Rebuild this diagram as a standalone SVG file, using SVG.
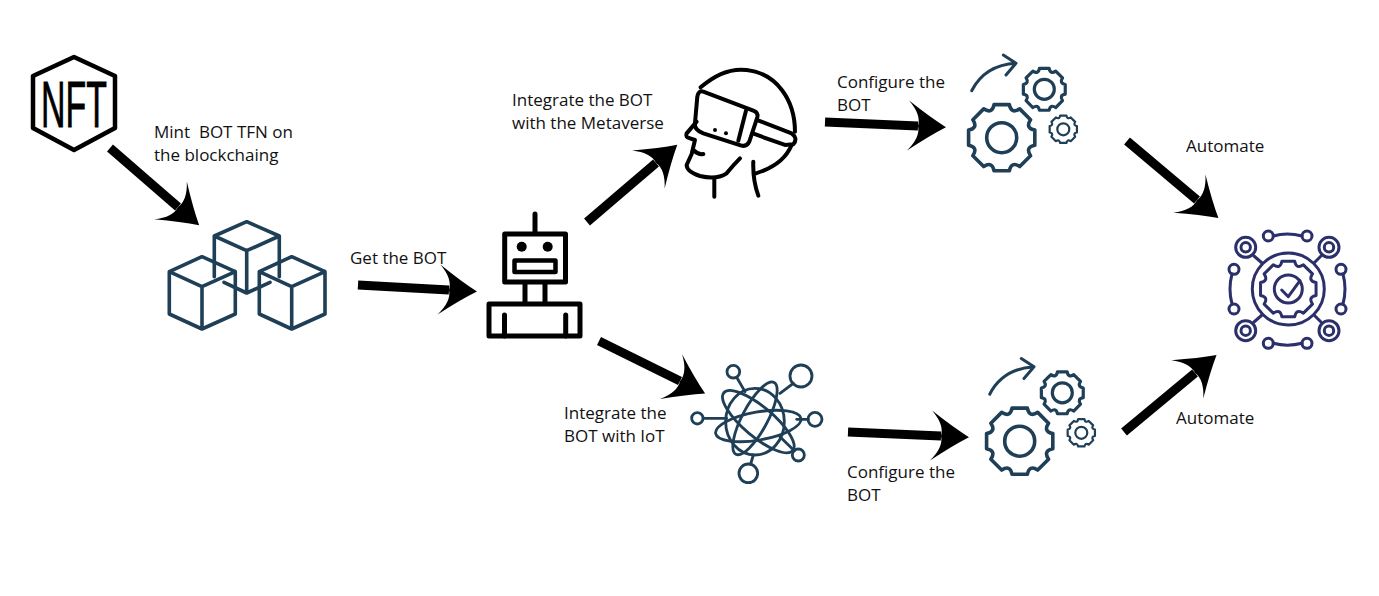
<svg xmlns="http://www.w3.org/2000/svg" width="1379" height="596" viewBox="0 0 1379 596">
<style>
text{font-family:"Open Sans","Noto Sans","Liberation Sans",sans-serif;font-size:17px;fill:#111;white-space:pre}
.k,.b,.n,.i{fill:none;stroke-linecap:round;stroke-linejoin:round}
.k{stroke:#000}
.b{stroke:#1f3f57}
.n{stroke:#2b2f6a}
.a{stroke:#000;stroke-width:9;fill:none;marker-end:url(#head)}
.nv{vector-effect:non-scaling-stroke}
</style>
<defs>
<marker id="head" markerUnits="userSpaceOnUse" orient="auto" markerWidth="44" markerHeight="54" refX="0" refY="0" viewBox="-12 -27 44 54" overflow="visible">
<path d="M28,0Q12,-9 -10,-25Q3,-11 0,0Q3,11 -10,25Q12,9 28,0Z" fill="#000"/>
</marker>
<path id="gear" class="nv" d="M-22.5,-97.4L22.5,-97.4Q28.3,-68.4 53,-84.8L84.8,-53Q68.4,-28.3 97.4,-22.5L97.4,22.5Q68.4,28.3 84.8,53L53,84.8Q28.3,68.4 22.5,97.4L-22.5,97.4Q-28.3,68.4 -53,84.8L-84.8,53Q-68.4,28.3 -97.4,22.5L-97.4,-22.5Q-68.4,-28.3 -84.8,-53L-53,-84.8Q-28.3,-68.4 -22.5,-97.4Z"/>
<g id="gearset" class="b">
<path d="M971.7,90.7Q985,65 1016,63.3M1003.3,55L1016,63.3L1006,75" stroke-width="3"/>
<use href="#gear" transform="translate(1001.7,137.7) scale(.34)" stroke-width="3.6"/>
<circle cx="1001.7" cy="137.7" r="15" stroke-width="3.6"/>
<use href="#gear" transform="translate(1044.3,89.3) scale(.215)" stroke-width="3.2"/>
<circle cx="1044.3" cy="89.3" r="10" stroke-width="3.2"/>
<use href="#gear" transform="translate(1063.3,129.3) scale(.14)" stroke-width="2.2"/>
<circle cx="1063.3" cy="129.3" r="6" stroke-width="2.2"/>
</g>
</defs>
<rect width="1379" height="596" fill="#fff"/>

<g id="connectors">
<path class="a" d="M110,148L178,207"/>
<path class="a" d="M358,285L449,290"/>
<path class="a" d="M587,222L656,163"/>
<path class="a" d="M599,341L680,381"/>
<path class="a" d="M825,122L918,126"/>
<path class="a" d="M848,432L941,436"/>
<path class="a" d="M1127,141L1197,200"/>
<path class="a" d="M1124,432L1195,373"/>
</g>

<g id="nft">
<path class="k" stroke-width="4.5" d="M74,57L115,76V128L74,150L33,128V76Z" stroke-linejoin="miter"/>
<text transform="translate(41,127) scale(.53,1)" style="font-family:'Liberation Sans',sans-serif;font-size:64px;fill:#000;stroke:#000;stroke-width:.8px">NFT</text>
</g>

<g id="blockchain" class="b" stroke-width="3.6">
<path d="M214.3,276.7V236L246.7,221.7L279.3,236V276.7M214.3,236L246.7,250.7L279.3,236M246.7,250.7V293L224,282.3M246.7,293L270,282.3"/>
<path d="M202,256.7L235.3,271.7V314L202,329L169.3,314V271.7ZM169.3,271.7L202,286.7L235.3,271.7M202,286.7V329"/>
<path d="M291.7,256.7L325,271.7V314L291.7,329L259.3,314V271.7ZM259.3,271.7L291.7,286.7L325,271.7M291.7,286.7V329"/>
</g>

<g id="robot" class="k" stroke-width="5" stroke-linecap="butt">
<path d="M535,214V232M525,284V302M545,284V302M504.5,315V336M565.7,315V336"/>
<rect x="504.7" y="234" width="60.8" height="48"/>
<rect x="514.5" y="260.5" width="41" height="11.5" stroke-width="4.5"/>
<rect x="489" y="304" width="91" height="32"/>
<circle cx="521.7" cy="246.7" r="5" fill="#000" stroke="none"/>
<circle cx="547.7" cy="246.7" r="5" fill="#000" stroke="none"/>
</g>

<g id="vr-head" class="k" transform="translate(470,50) scale(.3333)" stroke-width="12">
<path d="M692,112C740,70 790,55 830,60C920,70 975,150 975,245"/>
<path d="M700,125L850,182Q866,188 862,202L838,275Q830,292 812,286L700,250Q672,240 675,220L682,140Q686,120 700,125Z"/>
<path d="M828,182L805,272"/>
<path d="M866,212L965,250Q985,265 970,283L945,285L853,252"/>
<circle cx="735" cy="240" r="6" fill="#000" stroke="none"/>
<circle cx="768" cy="250" r="6" fill="#000" stroke="none"/>
<path d="M680,215L650,250Q645,262 660,265L675,270L665,312L650,345Q650,365 690,378Q740,390 770,370Q790,345 810,325"/>
<path d="M670,300Q685,315 700,312M733,385V440M850,335Q848,390 865,437M858,370Q940,345 965,285"/>
</g>

<g id="iot" class="b" transform="translate(680,350) scale(.3333)" stroke-width="8.5">
<circle cx="160" cy="65" r="19"/><circle cx="363" cy="78" r="33"/><circle cx="52" cy="205" r="17"/><circle cx="405" cy="208" r="21"/><circle cx="355" cy="315" r="18"/><circle cx="205" cy="370" r="28"/>
<path d="M170,82L195,125M300,130L340,100M70,205L140,205M350,208L385,208M300,260L343,302M220,315L212,342"/>
<ellipse cx="225" cy="215" rx="88" ry="100"/>
<ellipse cx="235" cy="228" rx="130" ry="42" transform="rotate(-10 235 228)"/>
<ellipse cx="235" cy="215" rx="135" ry="45" transform="rotate(40 235 215)"/>
<ellipse cx="225" cy="205" rx="122" ry="38" transform="rotate(-62 225 205)"/>
</g>

<g id="gears-top"><use href="#gearset"/></g>
<g id="gears-bottom"><use href="#gearset" transform="translate(18,303.5)"/></g>

<g id="automation" class="n" stroke-width="3">
<circle cx="1288.3" cy="289" r="36"/>
<use href="#gear" transform="translate(1288.3,289) scale(.285)"/>
<circle cx="1288.3" cy="289" r="14"/>
<path d="M1281.7,290L1288.3,296.7L1300,280.7"/>
<circle cx="1245.7" cy="247.3" r="10"/><circle cx="1245.7" cy="247.3" r="4.7"/>
<circle cx="1329" cy="247.3" r="10"/><circle cx="1329" cy="247.3" r="4.7"/>
<circle cx="1245.7" cy="330.7" r="10"/><circle cx="1245.7" cy="330.7" r="4.7"/>
<circle cx="1329" cy="330.7" r="10"/><circle cx="1329" cy="330.7" r="4.7"/>
<path d="M1254,256L1262,263M1321,256L1314,263M1254,322L1262,315M1321,322L1314,315"/>
<circle cx="1268.3" cy="236" r="5"/><circle cx="1307" cy="236" r="5"/>
<circle cx="1268.3" cy="343.3" r="5"/><circle cx="1307" cy="343.3" r="5"/>
<circle cx="1234" cy="269.3" r="5"/><circle cx="1234" cy="309" r="5"/>
<circle cx="1341" cy="269.3" r="5"/><circle cx="1341" cy="309" r="5"/>
<path d="M1273.3,236Q1287,232 1302,236M1273.3,343.3Q1287,347 1302,343.3M1232,274Q1228,289 1232,304M1343,274Q1347,289 1343,304"/>
</g>

<g id="labels">
<text x="154" y="138">Mint  BOT TFN on</text>
<text x="154" y="161">the blockchaing</text>
<text x="350" y="264">Get the BOT</text>
<text x="512" y="106">Integrate the BOT</text>
<text x="512" y="129">with the Metaverse</text>
<text x="837" y="88">Configure the</text>
<text x="837" y="111">BOT</text>
<text x="1186" y="152">Automate</text>
<text x="564" y="419">Integrate the</text>
<text x="564" y="442">BOT with IoT</text>
<text x="847" y="478">Configure the</text>
<text x="847" y="501">BOT</text>
<text x="1176" y="424">Automate</text>
</g>
</svg>
